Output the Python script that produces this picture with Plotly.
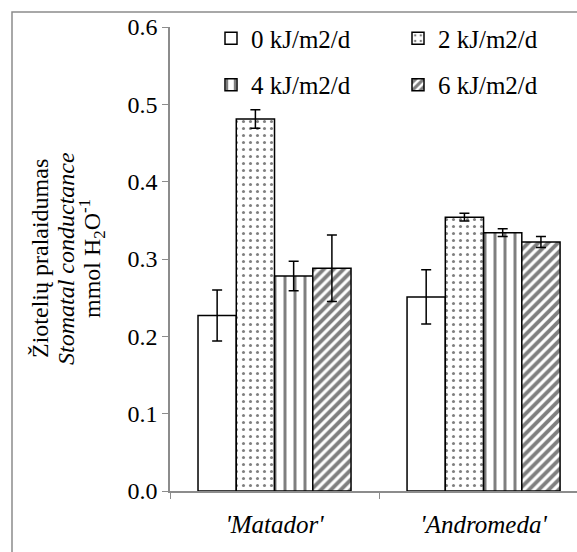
import plotly.graph_objects as go

categories = ["<i>'Matador'</i>", "<i>'Andromeda'</i>"]
series_names = ["0 kJ/m2/d", "2 kJ/m2/d", "4 kJ/m2/d", "6 kJ/m2/d"]
values_0 = [0.227, 0.251]
values_2 = [0.481, 0.354]
values_4 = [0.278, 0.334]
values_6 = [0.288, 0.322]
errors_0 = [0.033, 0.035]
errors_2 = [0.012, 0.005]
errors_4 = [0.019, 0.005]
errors_6 = [0.043, 0.007]
y_ticks = [0.0, 0.1, 0.2, 0.3, 0.4, 0.5, 0.6]
title_lines = ["Žiotelių pralaidumas", "<i>Stomatal conductance</i>",
               "mmol H<sub>2</sub>O<sup>-1</sup>"]

FONT = "Liberation Serif"
patterns = ["", ".", "|", "/"]
pat_size = [8, 7, 10, 7]
pat_sol = [0.3, 0.15, 0.3, 0.55]
legend_ids = ["legend", "legend2", "legend", "legend2"]

fig = go.Figure()
for name, vals, errs, pat, ps, sol, lg in zip(
    series_names,
    [values_0, values_2, values_4, values_6],
    [errors_0, errors_2, errors_4, errors_6],
    patterns, pat_size, pat_sol, legend_ids,
):
    fig.add_trace(go.Bar(
        x=categories, y=vals, name=name, legend=lg, legendgroup=name,
        marker=dict(color="white", line=dict(color="black", width=1.5),
                    pattern=dict(shape=pat, fgcolor="black", bgcolor="white",
                                 size=ps, solidity=sol, fillmode="overlay")),
        error_y=dict(type="data", array=errs, color="black", thickness=1.5, width=5),
    ))

leg_common = dict(orientation="v", yanchor="top", xanchor="left",
                  font=dict(family=FONT, size=25, color="black"),
                  bgcolor="rgba(0,0,0,0)", itemwidth=30, tracegroupgap=11,
                  traceorder="grouped")

fig.update_layout(
    width=577, height=552,
    margin=dict(l=170, r=0, t=27, b=61, autoexpand=False),
    paper_bgcolor="white", plot_bgcolor="white",
    barmode="group", bargap=0.268, bargroupgap=0,
    font=dict(family=FONT, size=24, color="black"),
    showlegend=True,
    legend=dict(x=(211 - 170) / 407, y=1.025, **leg_common),
    legend2=dict(x=(398 - 170) / 407, y=1.025, **leg_common),
    xaxis=dict(range=[-0.5, 1.447], showline=True, linecolor="#8c8c8c", linewidth=1.5,
               ticks="outside", tickson="boundaries", ticklen=6, tickcolor="#8c8c8c",
               ticklabelstandoff=10,
               tickfont=dict(family=FONT, size=25), showgrid=False, automargin=False),
    yaxis=dict(range=[0, 0.6], tickvals=y_ticks, tickformat=".1f",
               showline=True, linecolor="#8c8c8c", linewidth=1.5,
               ticks="outside", ticklen=6, tickcolor="#8c8c8c",
               tickfont=dict(family=FONT, size=24), showgrid=False, zeroline=False,
               automargin=False),
)

for px, line in zip([40, 66, 92], title_lines):
    fig.add_annotation(text=line, xref="paper", yref="paper",
                       x=(px - 170) / 407, y=0.5, xanchor="center", yanchor="middle",
                       textangle=-90, showarrow=False,
                       font=dict(family=FONT, size=24, color="black"))

fig.add_shape(type="rect", xref="paper", yref="paper",
              x0=(12 - 170) / 407, x1=1.1, y0=-0.3, y1=1 + (27 - 12) / 464,
              line=dict(color="#8c8c8c", width=1.5), fillcolor="rgba(0,0,0,0)", layer="below")

fig.write_html(
    "out.html",
    config={"displayModeBar": False},
    post_script="document.body.style.margin='0';document.body.style.overflow='hidden';",
)
